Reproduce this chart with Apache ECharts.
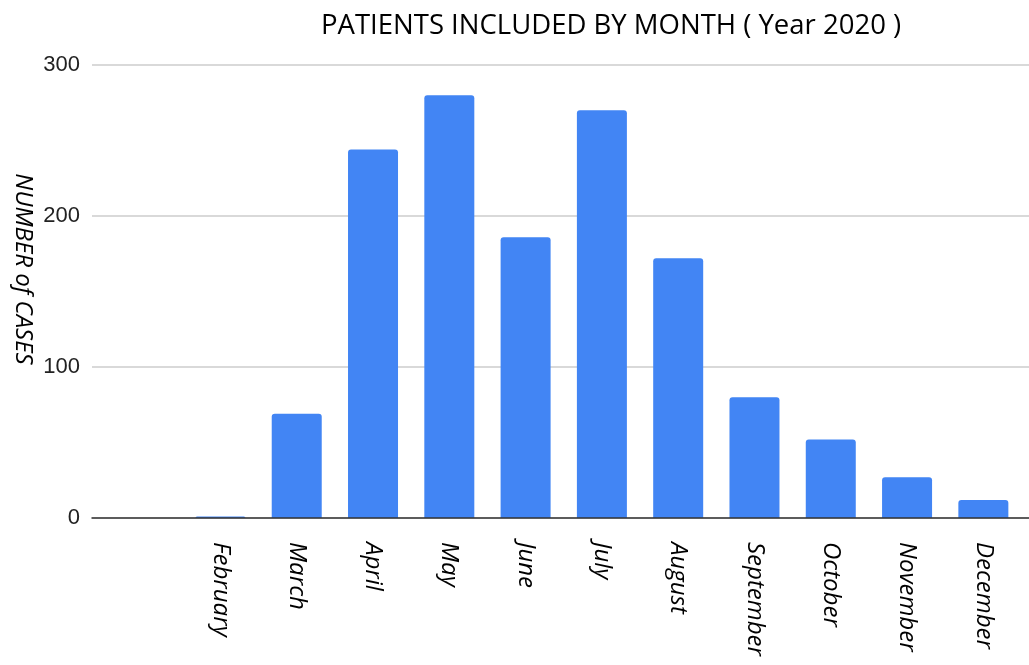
<!DOCTYPE html>
<html>
<head>
<meta charset="utf-8">
<script src="https://cdn.jsdelivr.net/npm/echarts@6/dist/echarts.min.js"></script>
<style>
html,body{margin:0;padding:0;background:#fff;}
#chart{width:1029px;height:665px;}
</style>
</head>
<body>
<div id="chart"></div>
<script>
const titleText = 'PATIENTS INCLUDED BY MONTH ( Year 2020 )';
const yAxisName = 'NUMBER of CASES';
const categories = ['', 'February', 'March', 'April', 'May', 'June', 'July', 'August', 'September', 'October', 'November', 'December'];
const cases = [null, 1, 69, 244, 280, 186, 270, 172, 80, 52, 27, 12];
const yTicks = [0, 100, 200, 300];

const chart = echarts.init(document.getElementById('chart'), null, {renderer: 'canvas'});
const yMin = yTicks[0], yMax = yTicks[yTicks.length - 1], yStep = yTicks[1] - yTicks[0];
const labelFont = 'Open Sans';

chart.setOption({
  animation: false,
  backgroundColor: '#ffffff',
  title: {
    text: titleText,
    left: 316,
    top: 7,
    textStyle: {fontFamily: labelFont, fontSize: 27.5, fontWeight: 'normal', color: '#000'}
  },
  graphic: [{
    type: 'text',
    x: 23,
    y: 269,
    rotation: -Math.PI / 2,
    style: {
      text: yAxisName,
      fontFamily: labelFont,
      fontSize: 24,
      fontStyle: 'italic',
      fill: '#000',
      align: 'center',
      verticalAlign: 'middle'
    }
  }],
  grid: [
    {left: 92, right: 0, top: 65, bottom: 147},
    {left: 106, right: 7.5, top: 65, bottom: 147}
  ],
  xAxis: [
    {
      type: 'category', gridIndex: 0, data: [''], z: 5,
      axisLine: {show: true, lineStyle: {color: '#333', width: 1.5}},
      axisTick: {show: false}, axisLabel: {show: false}, splitLine: {show: false}
    },
    {
      type: 'category', gridIndex: 1, data: categories,
      axisLine: {show: false}, axisTick: {show: false},
      axisLabel: {
        rotate: -90, margin: 24, interval: 0,
        fontFamily: labelFont, fontSize: 24, fontStyle: 'italic', color: '#000'
      }
    }
  ],
  yAxis: [
    {
      type: 'value', gridIndex: 0, min: yMin, max: yMax, interval: yStep,
      axisLine: {show: false}, axisTick: {show: false},
      axisLabel: {margin: 12, fontFamily: 'Liberation Sans', fontSize: 22, color: '#222'},
      splitLine: {lineStyle: {color: '#cccccc', width: 1.5}}
    },
    {
      type: 'value', gridIndex: 1, min: yMin, max: yMax, interval: yStep,
      show: false, splitLine: {show: false}
    }
  ],
  series: [{
    type: 'bar',
    xAxisIndex: 1,
    yAxisIndex: 1,
    data: cases,
    barWidth: 50,
    itemStyle: {color: '#4285f4', borderRadius: [3, 3, 0, 0]}
  }]
});
</script>
</body>
</html>
